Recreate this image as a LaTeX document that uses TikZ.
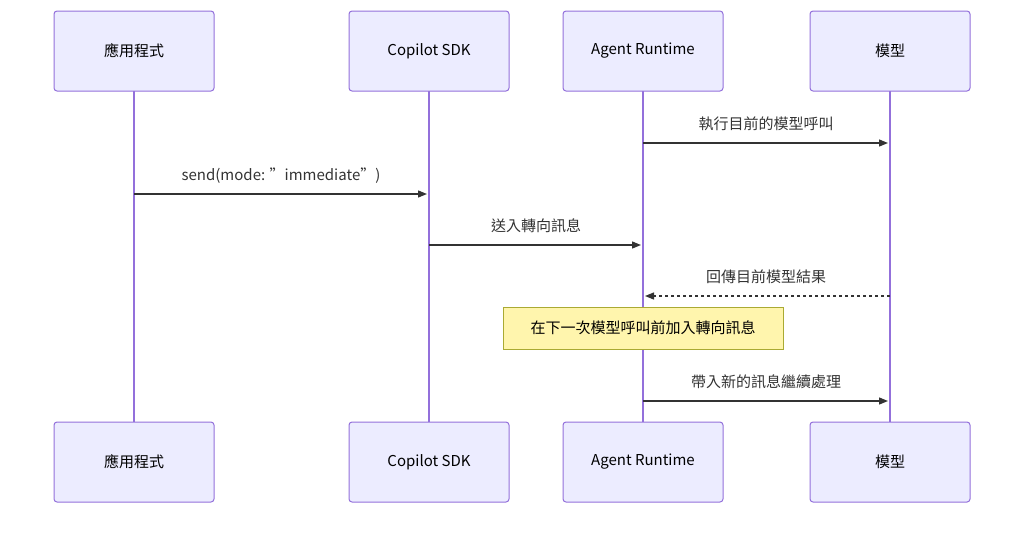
\documentclass[tikz,border=0pt]{standalone}
\usepackage{fontspec}
\setmainfont{Noto Sans CJK TC}
\usetikzlibrary{arrows.meta}
\definecolor{actfill}{HTML}{ECECFF}
\definecolor{actline}{HTML}{9370DB}
\definecolor{notefill}{HTML}{FFF5AD}
\definecolor{noteline}{HTML}{AAAA33}
\definecolor{msg}{HTML}{333333}
\begin{document}
\begin{tikzpicture}[x=1pt,y=-1pt,font=\fontsize{15}{18}\selectfont,
 actor/.style={draw=actline,fill=actfill,line width=1pt,rounded corners=3pt,minimum width=160pt,minimum height=80pt,inner sep=0pt},
 life/.style={draw=actline,line width=2pt},
 msgarrow/.style={draw=msg,line width=1.3pt,-{Triangle[length=9pt,width=7pt]}},
 lbl/.style={text=msg,inner sep=0pt,anchor=base}]
\useasboundingbox (0,0) rectangle (1024,547);
\foreach \n/\x/\t in {a/134/應用程式,b/429/Copilot SDK,c/643/Agent Runtime,d/890/模型}{
 \coordinate (\n t) at (\x,91);
 \coordinate (\n b) at (\x,422);
 \draw[life] (\n t) -- (\n b);
 \node[actor] (\n top) at (\x,51) {\t};
 \node[actor] (\n bot) at (\x,462) {\t};
}
\coordinate (m1s) at (643,143); \coordinate (m1e) at (890,143);
\draw[msgarrow] (m1s) -- ([xshift=-2pt]m1e);
\node[lbl] (l1) at (766,129) {執行目前的模型呼叫};
\coordinate (m2s) at (134,194); \coordinate (m2e) at (429,194);
\draw[msgarrow] (m2s) -- ([xshift=-2pt]m2e);
\node[lbl] (l2) at (281,180) {send(mode: "immediate")};
\coordinate (m3s) at (429,245); \coordinate (m3e) at (643,245);
\draw[msgarrow] (m3s) -- ([xshift=-2pt]m3e);
\node[lbl] (l3) at (536,231) {送入轉向訊息};
\coordinate (m4s) at (890,296); \coordinate (m4e) at (643,296);
\draw[msgarrow,dash pattern=on 3pt off 3pt] (m4s) -- ([xshift=2pt]m4e);
\node[lbl] (l4) at (766,282) {回傳目前模型結果};
\node[draw=noteline,fill=notefill,line width=1pt,minimum width=280pt,minimum height=42pt,inner sep=0pt] (note) at (643,328) {在下一次模型呼叫前加入轉向訊息};
\coordinate (m5s) at (643,401); \coordinate (m5e) at (890,401);
\draw[msgarrow] (m5s) -- ([xshift=-2pt]m5e);
\node[lbl] (l5) at (766,387) {帶入新的訊息繼續處理};
\end{tikzpicture}
\end{document}
